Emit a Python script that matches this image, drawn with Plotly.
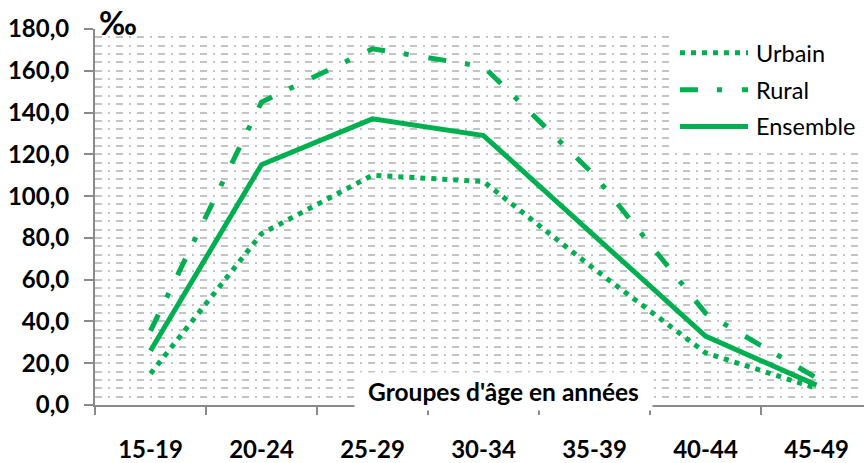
import plotly.graph_objects as go

# ---- data ----
categories = ["15-19", "20-24", "25-29", "30-34", "35-39", "40-44", "45-49"]
urbain = [15, 82, 110, 107, 65, 25, 8]
rural = [35.5, 145, 170.5, 162, 110, 44, 13]
ensemble = [26, 115, 137, 129, 81, 33, 9.5]
series_names = ["Urbain", "Rural", "Ensemble"]
y_ticks = [0, 20, 40, 60, 80, 100, 120, 140, 160, 180]

# ---- style ----
GREEN = "#00B050"
GRID = "#C4C4C4"
AXIS = "#8A8A8A"
FONT = "Lato"
W, H = 864, 463
L, R, T, B = 95, 0, 29, 463 - 407
PW, PH = W - L - R, H - T - B
CAT_PX = 111
dashes = {"Urbain": "5px,6px", "Rural": "18px,19px,5px,20px", "Ensemble": "solid"}
values = {"Urbain": urbain, "Rural": rural, "Ensemble": ensemble}


def px_x(p):  # page pixel -> paper coordinate
    return (p - L) / PW


def px_y(p):
    return (H - B - p) / PH


fig = go.Figure()
for name in series_names:
    fig.add_trace(go.Scatter(
        x=categories, y=values[name], mode="lines", name=name,
        line=dict(color=GREEN, width=5, dash=dashes[name]),
        showlegend=False,
    ))

grid_dash = "7px,6px,2px,6px"
fig.update_layout(
    width=W, height=H,
    margin=dict(l=L, r=R, t=T, b=B, pad=0),
    paper_bgcolor="white", plot_bgcolor="white",
    separators=", ",
    font=dict(family=FONT, color="black"),
    xaxis=dict(
        type="category", range=[-0.5, -0.5 + PW / CAT_PX],
        showgrid=False, zeroline=False,
        showline=True, linecolor=AXIS, linewidth=2,
        ticks="outside", ticklen=8, tickwidth=2, tickcolor=AXIS,
        tickson="boundaries",
        tickfont=dict(family=FONT, size=24, color="black", weight="bold"),
        ticklabelstandoff=22,
    ),
    yaxis=dict(
        range=[0, 180], tickvals=y_ticks, tickformat=".1f",
        showgrid=True, gridcolor=GRID, gridwidth=2, griddash=grid_dash,
        zeroline=False,
        showline=True, linecolor=AXIS, linewidth=2,
        ticks="outside", ticklen=9, tickwidth=2, tickcolor=AXIS,
        tickfont=dict(family=FONT, size=24, color="black", weight="bold"),
        ticklabelstandoff=10,
        minor=dict(dtick=4, showgrid=True, gridcolor=GRID, gridwidth=2,
                   griddash=grid_dash, ticks=""),
    ),
)

# ---- custom legend (long line samples like the original) ----
shapes = [dict(type="rect", xref="paper", yref="paper", layer="above",
               x0=px_x(670), x1=px_x(864), y0=px_y(151), y1=px_y(33),
               fillcolor="white", line=dict(width=0))]
annotations = []
legend_rows = [53, 90, 127]
for name, ry in zip(series_names, legend_rows):
    shapes.append(dict(type="line", xref="paper", yref="paper", layer="above",
                       x0=px_x(680), x1=px_x(748), y0=px_y(ry), y1=px_y(ry),
                       line=dict(color=GREEN, width=5, dash=dashes[name])))
    annotations.append(dict(xref="paper", yref="paper", x=px_x(754), y=px_y(ry),
                            xanchor="left", yanchor="middle", showarrow=False,
                            text=name, font=dict(family=FONT, size=23.5, color="black")))

# per-mille unit
annotations.append(dict(xref="paper", yref="paper", x=px_x(97), y=px_y(22),
                        xanchor="left", yanchor="middle", showarrow=False,
                        text="‰", font=dict(family=FONT, size=32, color="black", weight="bold")))
# axis title in a white box
annotations.append(dict(xref="paper", yref="paper", x=px_x(503), y=px_y(393),
                        xanchor="center", yanchor="middle", showarrow=False,
                        text="Groupes d'âge en années", bgcolor="white",
                        width=297, height=37, borderpad=0,
                        font=dict(family=FONT, size=24.5, color="black", weight="bold")))

fig.update_layout(shapes=shapes, annotations=annotations)
fig.write_html(
    "out.html",
    config={"displayModeBar": False},
    post_script="document.body.style.margin='0';document.body.style.overflow='hidden';",
)
